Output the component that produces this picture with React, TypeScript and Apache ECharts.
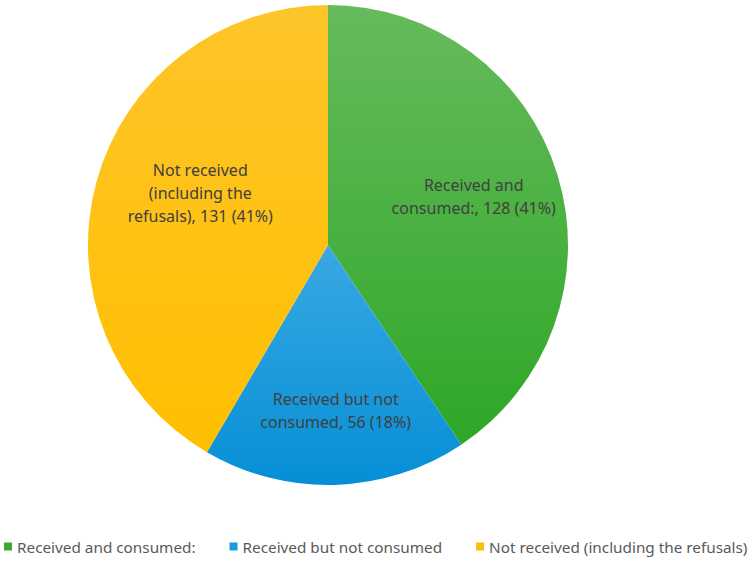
import React, { useEffect, useRef } from "react";
import * as echarts from "echarts";

const categories = [
  "Received and consumed:",
  "Received but not consumed",
  "Not received (including the refusals)",
];
const values = [128, 56, 131];
const labelTexts = [
  "Received and\nconsumed:, 128 (41%)",
  "Received but not\nconsumed, 56 (18%)",
  "Not received\n(including the\nrefusals), 131 (41%)",
];

const grad = (top: string, bottom: string) =>
  new echarts.graphic.LinearGradient(0, 0, 0, 1, [
    { offset: 0, color: top },
    { offset: 1, color: bottom },
  ]);

const colors = [
  ["#66bb5c", "#2ea727"],
  ["#3aa8e2", "#058fd6"],
  ["#fec52a", "#ffbf00"],
];
const legendColors = ["#3aa932", "#1a9be0", "#ffc000"];
const labelOffsets = [
  [28, -13],
  [4, 43],
  [-9, -20],
];

export default function App() {
  const ref = useRef<HTMLDivElement>(null);
  useEffect(() => {
    if (!ref.current) return;
    const chart = echarts.init(ref.current, undefined, { renderer: "svg" });
    chart.setOption({
      animation: false,
      backgroundColor: "#ffffff",
      legend: {
        top: 539,
        left: 4,
        width: 750,
        padding: 0,
        itemWidth: 8,
        itemHeight: 8,
        itemGap: 34,
        icon: "rect",
        textStyle: { color: "#595959", fontSize: 15.3, fontFamily: "Noto Sans" },
        data: categories.map((c, i) => ({ name: c, itemStyle: { color: legendColors[i] } })),
      },
      series: [
        {
          type: "pie",
          center: [328, 245],
          radius: [0, 240],
          startAngle: 90,
          clockwise: true,
          label: {
            show: true,
            position: "inside",
            color: "#404040",
            fontSize: 16,
            lineHeight: 23,
            fontFamily: "Noto Sans",
            formatter: (p: any) => labelTexts[p.dataIndex],
          },
          labelLayout: (p: any) => ({ dx: labelOffsets[p.dataIndex][0], dy: labelOffsets[p.dataIndex][1] }),
          emphasis: { disabled: true },
          data: categories.map((c, i) => ({
            name: c,
            value: values[i],
            itemStyle: { color: grad(colors[i][0], colors[i][1]) },
          })),
        },
      ],
    });
    return () => chart.dispose();
  }, []);
  return (
    <div
      ref={ref}
      style={{ position: "absolute", left: 0, top: 0, width: 754, height: 564 }}
    />
  );
}
